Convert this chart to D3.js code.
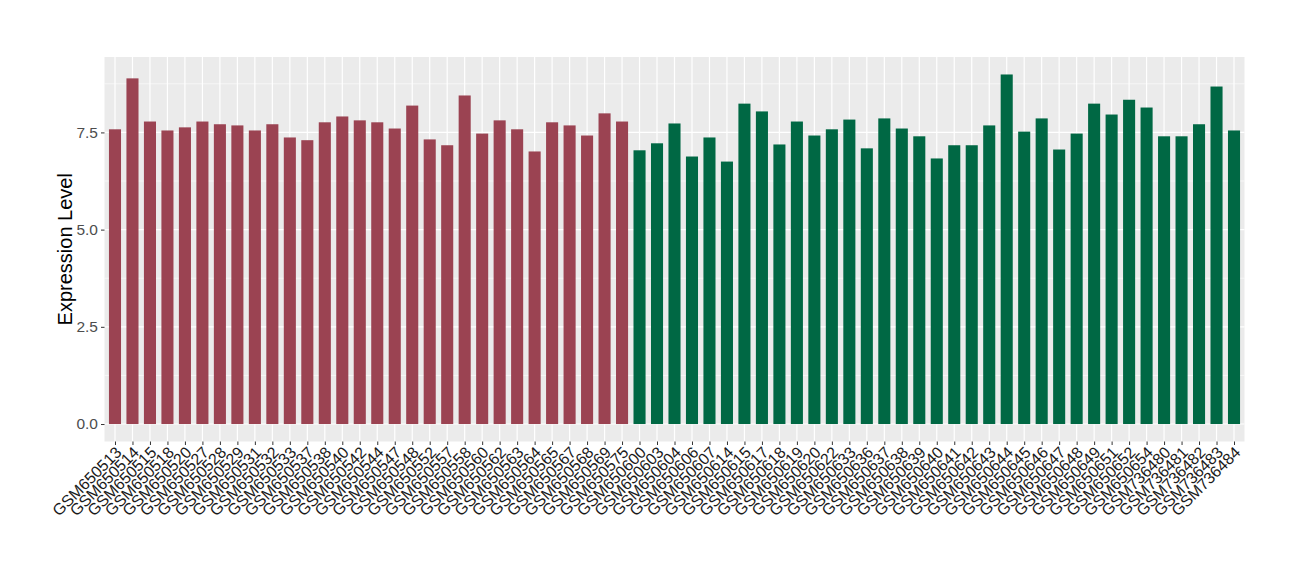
<!DOCTYPE html>
<html><head><meta charset="utf-8">
<script src="https://cdn.jsdelivr.net/npm/d3@7"></script>
<style>body{margin:0;background:#fff;} text{font-family:"Liberation Sans",Arial,sans-serif;}</style>
</head><body>
<svg id="chart" width="1300" height="580"></svg>
<script>
const samples = ["GSM650513","GSM650514","GSM650515","GSM650518","GSM650520","GSM650527","GSM650528","GSM650529","GSM650531","GSM650532","GSM650533","GSM650537","GSM650538","GSM650540","GSM650542","GSM650544","GSM650547","GSM650548","GSM650552","GSM650557","GSM650558","GSM650560","GSM650562","GSM650563","GSM650564","GSM650565","GSM650567","GSM650568","GSM650569","GSM650575",
"GSM650600","GSM650603","GSM650604","GSM650606","GSM650607","GSM650614","GSM650615","GSM650617","GSM650618","GSM650619","GSM650620","GSM650622","GSM650633","GSM650636","GSM650637","GSM650638","GSM650639","GSM650640","GSM650641","GSM650642","GSM650643","GSM650644","GSM650645","GSM650646","GSM650647","GSM650648","GSM650649","GSM650651","GSM650652","GSM650654","GSM736480","GSM736481","GSM736482","GSM736483","GSM736484"];
const values = [7.58,8.89,7.78,7.55,7.63,7.78,7.71,7.68,7.55,7.71,7.37,7.30,7.76,7.91,7.81,7.76,7.60,8.19,7.32,7.17,8.45,7.47,7.81,7.58,7.01,7.76,7.68,7.42,7.99,7.78,
7.04,7.22,7.73,6.88,7.37,6.75,8.24,8.04,7.19,7.78,7.42,7.58,7.83,7.09,7.86,7.60,7.40,6.83,7.17,7.17,7.68,8.99,7.52,7.86,7.06,7.47,8.24,7.96,8.34,8.14,7.40,7.40,7.71,8.68,7.55];
const groups = samples.map((s,i)=> i<30 ? "A" : "B");
const groupColors = {A:"#9b4352", B:"#006844"};
const yTicks = [0,2.5,5,7.5];
const yMinor = [1.25,3.75,6.25,8.75];

const svg = d3.select("#chart");
const pL=104.5, pR=1244.5, pT=57, pB=441.5;
const maxV = d3.max(values);
const x = d3.scalePoint().domain(samples).range([pL,pR]).padding(0.6);
const y = d3.scaleLinear().domain([-0.05*maxV, maxV*1.05]).range([pB,pT]);
const bw = x.step()*0.69;

svg.append("rect").attr("x",pL).attr("y",pT).attr("width",pR-pL).attr("height",pB-pT).attr("fill","#ebebeb");
const g = svg.append("g");
g.selectAll(".ymin").data(yMinor).enter().append("line")
 .attr("x1",pL).attr("x2",pR).attr("y1",d=>y(d)).attr("y2",d=>y(d)).attr("stroke","#fff").attr("stroke-width",0.6);
g.selectAll(".ymaj").data(yTicks).enter().append("line")
 .attr("x1",pL).attr("x2",pR).attr("y1",d=>y(d)).attr("y2",d=>y(d)).attr("stroke","#fff").attr("stroke-width",1.2);
g.selectAll(".xmaj").data(samples).enter().append("line")
 .attr("x1",d=>x(d)).attr("x2",d=>x(d)).attr("y1",pT).attr("y2",pB).attr("stroke","#fff").attr("stroke-width",1.2);

g.selectAll(".bar").data(samples).enter().append("rect")
 .attr("x",d=>x(d)-bw/2).attr("width",bw)
 .attr("y",(d,i)=>y(values[i])).attr("height",(d,i)=>y(0)-y(values[i]))
 .attr("fill",(d,i)=>groupColors[groups[i]]);

const yAxis = svg.append("g").attr("transform",`translate(${pL},0)`)
 .call(d3.axisLeft(y).tickValues(yTicks).tickFormat(d3.format(".1f")).tickSize(3.5).tickPadding(3));
yAxis.select(".domain").remove();
yAxis.selectAll("line").attr("stroke","#333");
yAxis.selectAll("text").attr("fill","#4d4d4d").style("font-size","15.5px");

const xAxis = svg.append("g").attr("transform",`translate(0,${pB})`)
 .call(d3.axisBottom(x).tickSize(3.5).tickPadding(3));
xAxis.select(".domain").remove();
xAxis.selectAll("line").attr("stroke","#333");
xAxis.selectAll("text").attr("fill","#1a1a1a").style("font-size","16px")
 .attr("text-anchor","end").attr("dy",null).attr("y",0)
 .attr("transform","translate(7,12) rotate(-45)");

svg.append("text").attr("transform",`translate(72,${(pT+pB)/2}) rotate(-90)`)
 .attr("text-anchor","middle").style("font-size","20px").attr("fill","#000").text("Expression Level");
</script>
</body></html>
